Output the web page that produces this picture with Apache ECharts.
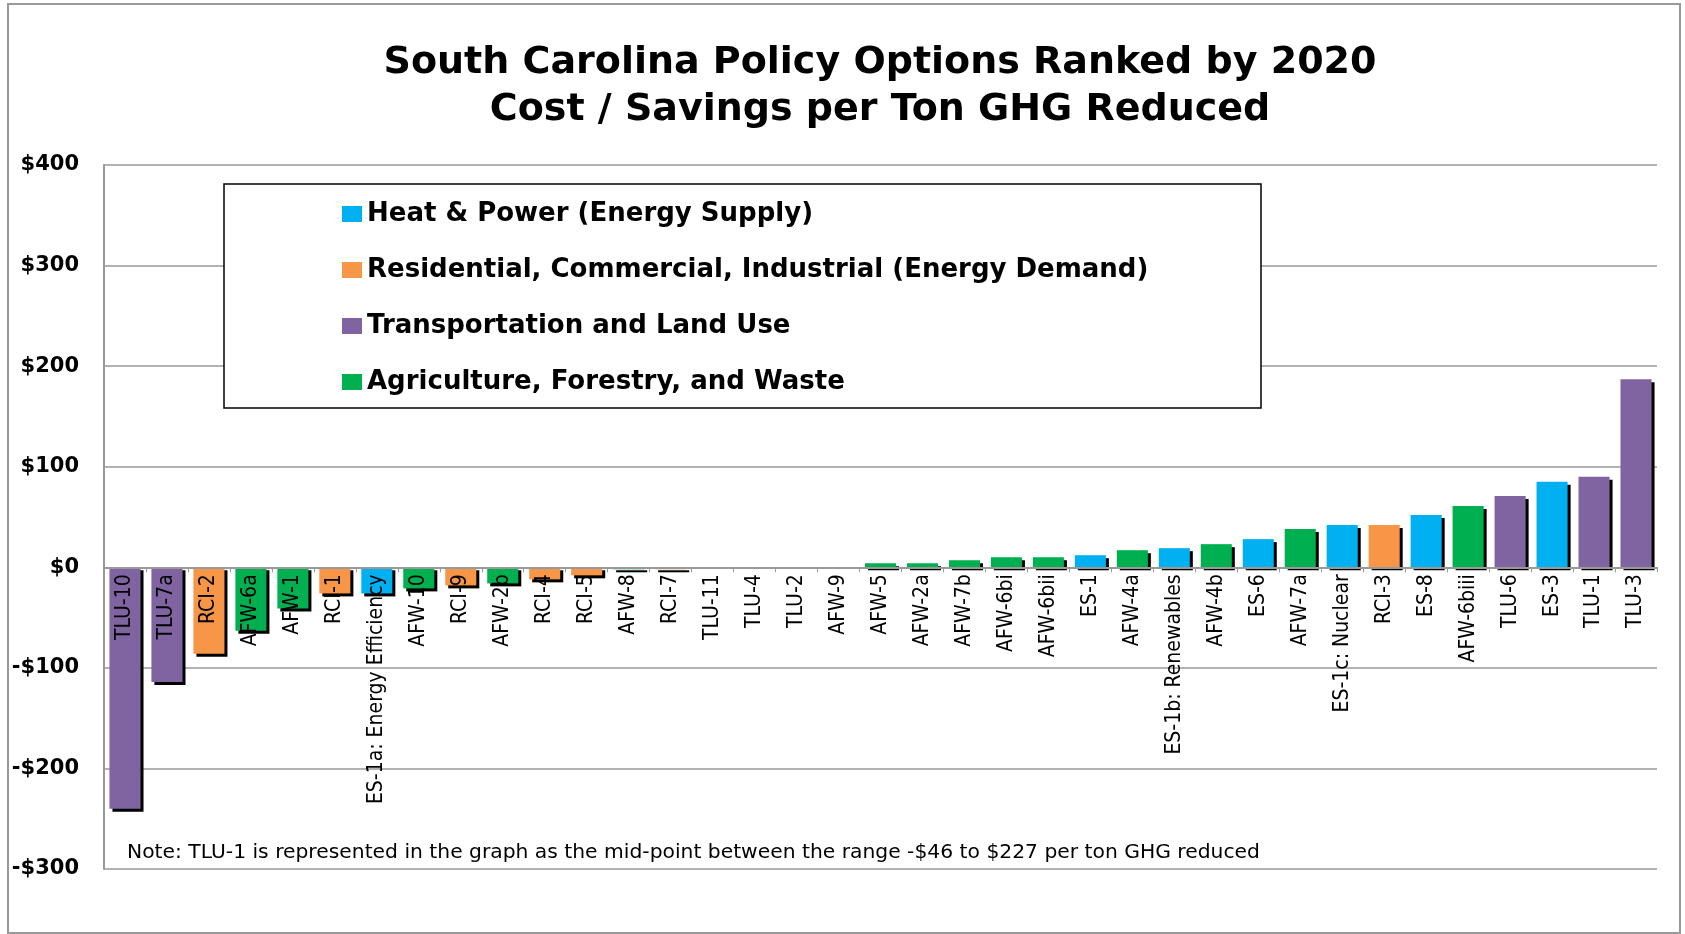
<!DOCTYPE html>
<html>
<head>
<meta charset="utf-8">
<title>South Carolina Policy Options</title>
<script src="https://cdn.jsdelivr.net/npm/echarts@6/dist/echarts.min.js"></script>
<style>
    html, body { margin: 0; padding: 0; background: #fff; }
    #chart { width: 1685px; height: 934px; }
</style>
</head>
<body>
<div id="chart"></div>
<script>
    // policy options, in ranked order
    var categories = ['TLU-10', 'TLU-7a', 'RCI-2', 'AFW-6a', 'AFW-1', 'RCI-1', 'ES-1a: Energy Efficiency', 'AFW-10',
        'RCI-9', 'AFW-2b', 'RCI-4', 'RCI-5', 'AFW-8', 'RCI-7', 'TLU-11', 'TLU-4', 'TLU-2', 'AFW-9', 'AFW-5',
        'AFW-2a', 'AFW-7b', 'AFW-6bi', 'AFW-6bii', 'ES-1', 'AFW-4a', 'ES-1b: Renewables', 'AFW-4b', 'ES-6',
        'AFW-7a', 'ES-1c: Nuclear', 'RCI-3', 'ES-8', 'AFW-6biii', 'TLU-6', 'ES-3', 'TLU-1', 'TLU-3'];
    // $ per ton GHG reduced
    var values = [-240, -114, -86, -63, -41, -26, -26, -21,
        -18, -16, -12, -8, -2, -2, 0, 0, 0, 0, 4,
        4, 7, 10, 10, 12, 17, 19, 23, 28,
        38, 42, 42, 52, 61, 71, 85, 90, 187];
    var sectors = ['TLU', 'TLU', 'RCI', 'AFW', 'AFW', 'RCI', 'ES', 'AFW',
        'RCI', 'AFW', 'RCI', 'RCI', 'AFW', 'RCI', 'TLU', 'TLU', 'TLU', 'AFW', 'AFW',
        'AFW', 'AFW', 'AFW', 'AFW', 'ES', 'AFW', 'ES', 'AFW', 'ES',
        'AFW', 'ES', 'RCI', 'ES', 'AFW', 'TLU', 'ES', 'TLU', 'TLU'];
    var groupKeys = ['ES', 'RCI', 'TLU', 'AFW'];
    var groupNames = ['Heat & Power (Energy Supply)', 'Residential, Commercial, Industrial (Energy Demand)',
        'Transportation and Land Use', 'Agriculture, Forestry, and Waste'];
    var groupColors = ['#00B0F0', '#F79646', '#8064A2', '#00B050'];
    var yTicks = [-300, -200, -100, 0, 100, 200, 300, 400];

    var gridTop = 165, gridBottom = 65, chartH = 934;
    // category axis sits on the $0 line
    var plotH = chartH - gridTop - gridBottom;
    var yMin = yTicks[0], yMax = yTicks[yTicks.length - 1];
    var zeroOffset = -plotH * (0 - yMin) / (yMax - yMin);

    var chart = echarts.init(document.getElementById('chart'));

    var series = groupKeys.map(function (key, g) {
        return {
            name: groupNames[g],
            type: 'bar',
            barGap: '-100%',
            barCategoryGap: '26%',
            itemStyle: {
                color: groupColors[g],
                shadowColor: '#000',
                shadowBlur: 0,
                shadowOffsetX: 3,
                shadowOffsetY: 3
            },
            data: values.map(function (v, i) { return sectors[i] === key && v !== 0 ? v : '-'; })
        };
    });

    chart.setOption({
        animation: false,
        grid: { left: 104, right: 28, top: gridTop, bottom: gridBottom, outerBoundsMode: 'none', containLabel: false },
        legend: {
            orient: 'vertical',
            left: 342,
            top: 201,
            padding: 0,
            itemWidth: 20,
            itemHeight: 16,
            itemGap: 30,
            icon: 'rect',
            itemStyle: { shadowBlur: 0, shadowOffsetX: 0, shadowOffsetY: 0, shadowColor: 'transparent' },
            textStyle: { fontFamily: 'DejaVu Sans', fontWeight: 'bold', fontSize: 26, lineHeight: 26, color: '#000' },
            data: groupNames
        },
        xAxis: {
            type: 'category',
            data: categories,
            z: 5,
            offset: zeroOffset,
            axisLine: { onZero: false, lineStyle: { color: '#999', width: 2 } },
            axisTick: { show: true, interval: 0, length: 5, lineStyle: { color: '#999' } },
            axisLabel: {
                interval: 0,
                rotate: 90,
                margin: 7,
                color: '#000',
                fontFamily: '"Liberation Sans Narrow", "DejaVu Sans Condensed", "Arial Narrow", sans-serif',
                fontSize: 21
            }
        },
        yAxis: {
            type: 'value',
            min: yMin,
            max: yMax,
            interval: 100,
            axisLine: { show: true, lineStyle: { color: '#999', width: 2 } },
            axisTick: { show: false },
            splitLine: { lineStyle: { color: '#999', width: 1.5 } },
            axisLabel: {
                margin: 25,
                color: '#000',
                fontFamily: 'DejaVu Sans',
                fontWeight: 'bold',
                fontSize: 21,
                formatter: function (v) { return (v < 0 ? '-$' : '$') + Math.abs(v); }
            }
        },
        graphic: [
            {
                type: 'rect', z: -1, silent: true,
                shape: { x: 8, y: 4, width: 1672, height: 929 },
                style: { fill: 'none', stroke: '#999', lineWidth: 2 }
            },
            {
                type: 'rect', z: 1, silent: true,
                shape: { x: 224, y: 184, width: 1037, height: 224 },
                style: { fill: '#fff', stroke: '#000', lineWidth: 1.5 }
            },
            {
                type: 'text', z: 10, silent: true,
                x: 880, y: 40,
                style: {
                    text: 'South Carolina Policy Options Ranked by 2020\nCost / Savings per Ton GHG Reduced',
                    align: 'center', verticalAlign: 'top',
                    font: 'bold 38px "DejaVu Sans"', lineHeight: 47, fill: '#000'
                }
            },
            {
                type: 'text', z: 10, silent: true,
                x: 127, y: 853,
                style: {
                    text: 'Note: TLU-1 is represented in the graph as the mid-point between the range -$46 to $227 per ton GHG reduced',
                    verticalAlign: 'middle',
                    font: '20.3px "DejaVu Sans"', fill: '#000'
                }
            }
        ],
        series: series
    });
</script>
</body>
</html>
